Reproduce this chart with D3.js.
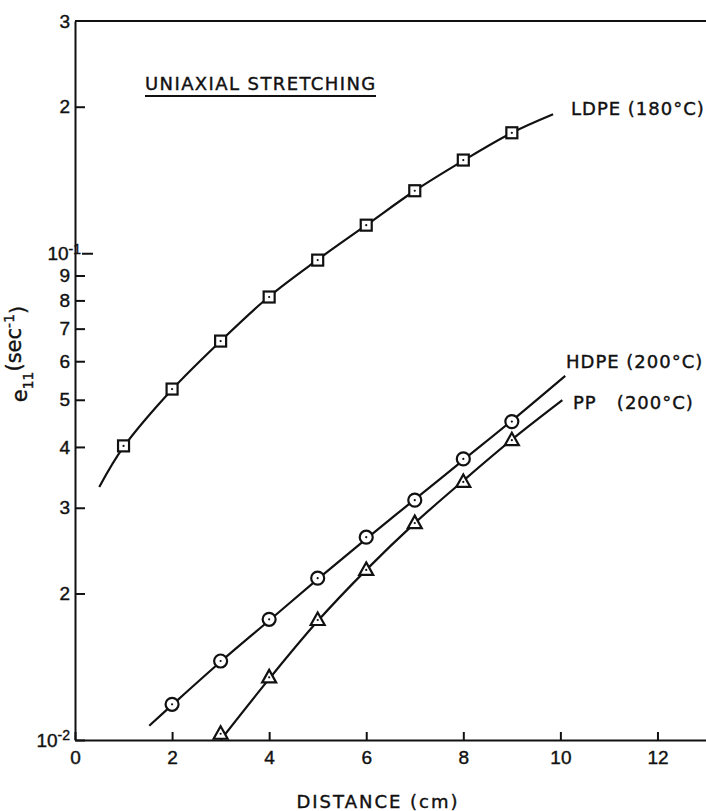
<!DOCTYPE html>
<html>
<head>
<meta charset="utf-8">
<script src="https://cdn.jsdelivr.net/npm/d3@7"></script>
<style>
  body { margin: 0; background: #fff; }
  svg { display: block; font-family: 'DejaVu Sans', 'Liberation Sans', sans-serif; }
  .axis text { font-size: 19px; fill: #111; stroke: #111; stroke-width: 0.4; }
  .axis path, .axis line { stroke: #111; stroke-width: 2; }
  .lbl { fill: #111; stroke: #111; stroke-width: 0.4; white-space: pre; }
</style>
</head>
<body>
<svg id="chart" width="706" height="811"></svg>
<script>
// distance (cm) and strain rate (sec-1)
const ldpeX = [1, 2, 3, 4, 5, 6, 7, 8, 9];
const ldpeY = [0.0402, 0.0526, 0.066, 0.0813, 0.0968, 0.1142, 0.1344, 0.1554, 0.1768];
const hdpeX = [2, 3, 4, 5, 6, 7, 8, 9];
const hdpeY = [0.01184, 0.01453, 0.0177, 0.0215, 0.0261, 0.0311, 0.0378, 0.0451];
const ppX = [3, 4, 5, 6, 7, 8, 9];
const ppY = [0.0103, 0.01345, 0.01764, 0.02236, 0.0279, 0.0339, 0.0413];

// smooth fitted curves drawn through the points
const ldpeLineX = [0.5, 1, 2, 3, 4, 5, 6, 7, 8, 9, 9.85];
const ldpeLineY = [0.0331, 0.0400, 0.0525, 0.066, 0.0815, 0.0970, 0.1142, 0.1344, 0.155, 0.1768, 0.193];
const hdpeLineX = [1.53, 2, 3, 4, 5, 6, 7, 8, 9, 10.1];
const hdpeLineY = [0.0107, 0.0118, 0.01448, 0.0176, 0.0214, 0.0259, 0.0312, 0.0376, 0.0453, 0.056];
const ppLineX = [3.0, 4, 5, 6, 7, 8, 9, 10.04];
const ppLineY = [0.0100, 0.01335, 0.01755, 0.02236, 0.0279, 0.0341, 0.0414, 0.0499];

const xTicks = [0, 2, 4, 6, 8, 10, 12];
const yTicks = [0.01, 0.02, 0.03, 0.04, 0.05, 0.06, 0.07, 0.08, 0.09, 0.1, 0.2, 0.3];
const yTickLabels = [['10', '-2'], ['2'], ['3'], ['4'], ['5'], ['6'], ['7'], ['8'], ['9'], ['10', '-1'], ['2'], ['3']];

const svg = d3.select('#chart');

const x = d3.scaleLinear().domain([0, 13]).range([75, 706]);
const y = d3.scaleLog().domain([0.01, 0.3]).range([740, 21]);

// x axis, ticks pointing inward
svg.append('g')
  .attr('class', 'axis')
  .attr('transform', `translate(0,${y(0.01)})`)
  .call(d3.axisBottom(x).tickValues(xTicks).tickSize(-8).tickSizeOuter(0).tickPadding(8).tickFormat(d3.format('d')))
  .selectAll('text').attr('dy', '0.85em');

// y axis
const yAxis = svg.append('g')
  .attr('class', 'axis')
  .attr('transform', `translate(${x(0)},0)`)
  .call(d3.axisLeft(y).tickValues(yTicks).tickSize(-10).tickSizeOuter(0).tickPadding(5));

yAxis.selectAll('.tick').each(function (d, i) {
  const lab = yTickLabels[i];
  const t = d3.select(this).select('text').text(null);
  t.append('tspan').text(lab[0]);
  if (lab[1]) {
    t.append('tspan').attr('dy', '-0.45em').attr('font-size', '14px').text(lab[1]);
  }
  if (d === 0.1) {
    t.attr('x', 6);
    d3.select(this).select('line').attr('x1', 7).attr('x2', 18);
  }
  if (d === 0.3) d3.select(this).select('line').remove();
});

// top frame line
svg.append('line')
  .attr('x1', x(0)).attr('x2', 706)
  .attr('y1', y(0.3)).attr('y2', y(0.3))
  .attr('stroke', '#111').attr('stroke-width', 2);

const line = d3.line()
  .x(d => x(d[0]))
  .y(d => y(d[1]))
  .curve(d3.curveCatmullRom);

const curves = [
  [ldpeLineX, ldpeLineY],
  [hdpeLineX, hdpeLineY],
  [ppLineX, ppLineY],
];
curves.forEach(([xs, ys]) => {
  svg.append('path')
    .datum(xs.map((v, i) => [v, ys[i]]))
    .attr('fill', 'none')
    .attr('stroke', '#111')
    .attr('stroke-width', 2.2)
    .attr('d', line);
});

// markers
const zip = (xs, ys) => xs.map((v, i) => [v, ys[i]]);
const mk = svg.append('g').attr('stroke', '#111').attr('stroke-width', 2.2).attr('fill', '#fff');

mk.selectAll('.sq').data(zip(ldpeX, ldpeY)).enter()
  .append('rect')
  .attr('x', d => x(d[0]) - 5.5).attr('y', d => y(d[1]) - 5.5)
  .attr('width', 11).attr('height', 11);

mk.selectAll('.ci').data(zip(hdpeX, hdpeY)).enter()
  .append('circle')
  .attr('cx', d => x(d[0])).attr('cy', d => y(d[1]))
  .attr('r', 6.5);

mk.selectAll('.tr').data(zip(ppX, ppY)).enter()
  .append('path')
  .attr('transform', d => `translate(${x(d[0])},${y(d[1])})`)
  .attr('d', 'M0,-7.5L7,5L-7,5Z');

// centre dots
const allPts = zip(ldpeX, ldpeY).concat(zip(hdpeX, hdpeY), zip(ppX, ppY));
svg.append('g').selectAll('circle').data(allPts).enter()
  .append('circle')
  .attr('cx', d => x(d[0])).attr('cy', d => y(d[1]))
  .attr('r', 1.1).attr('fill', '#111');

// labels
const txt = (xp, yp, s, ls) => svg.append('text')
  .attr('class', 'lbl')
  .attr('x', xp).attr('y', yp)
  .attr('font-size', 18).attr('letter-spacing', ls)
  .text(s);

txt(571, 115, 'LDPE (180°C)', 1);
txt(566, 368, 'HDPE (200°C)', 1);
txt(573, 409, 'PP   (200°C)', 1);

txt(145, 90, 'UNIAXIAL STRETCHING', 1.4);
svg.append('line')
  .attr('x1', 145).attr('x2', 376).attr('y1', 96).attr('y2', 96)
  .attr('stroke', '#111').attr('stroke-width', 2);

svg.append('text')
  .attr('class', 'lbl')
  .attr('x', 378).attr('y', 808)
  .attr('text-anchor', 'middle')
  .attr('font-size', 18).attr('letter-spacing', 2)
  .text('DISTANCE (cm)');

const yl = svg.append('text')
  .attr('class', 'lbl')
  .attr('transform', 'translate(27,354) rotate(-90)')
  .attr('text-anchor', 'middle')
  .attr('font-size', 21);
yl.append('tspan').text('e');
yl.append('tspan').attr('dy', '0.4em').attr('font-size', 14).text('11');
yl.append('tspan').attr('dy', '-0.55em').text('(sec');
yl.append('tspan').attr('dy', '-0.5em').attr('font-size', 14).text('-1');
yl.append('tspan').attr('dy', '0.5em').text(')');
</script>
</body>
</html>
